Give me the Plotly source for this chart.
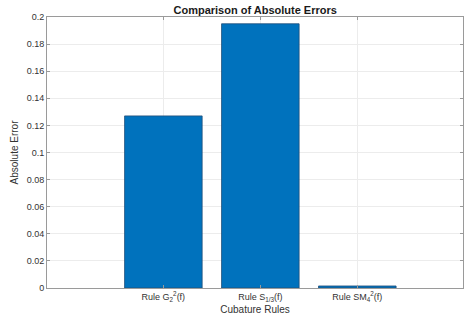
import plotly.graph_objects as go

categories = ["Rule G<sub>2</sub><sup>2</sup>(f)", "Rule S<sub>1/3</sub>(f)", "Rule SM<sub>4</sub><sup>2</sup>(f)"]
abs_errors = [0.127, 0.195, 0.0015]
y_ticks = [0, 0.02, 0.04, 0.06, 0.08, 0.1, 0.12, 0.14, 0.16, 0.18, 0.2]
y_tick_labels = ["0", "0.02", "0.04", "0.06", "0.08", "0.1", "0.12", "0.14", "0.16", "0.18", "0.2"]

fig = go.Figure()
fig.add_trace(go.Bar(
    x=categories, y=abs_errors, width=0.8,
    marker=dict(color="#0072BD", line=dict(color="#1f4e79", width=0.8)),
))

font_family = "Liberation Sans, Arial, sans-serif"
fig.update_layout(
    width=464, height=321,
    margin=dict(l=47, r=1, t=17, b=33),
    paper_bgcolor="white", plot_bgcolor="white",
    font=dict(family=font_family, size=10, color="#404040"),
    showlegend=False,
    title=dict(text="<b>Comparison of Absolute Errors</b>", x=0.55, xanchor="center",
               y=1 - 10 / 321, yanchor="middle",
               font=dict(family=font_family, size=11, color="#1a1a1a")),
    xaxis=dict(
        type="category", range=[-1.2, 3.09],
        showline=True, linecolor="#9a9a9a", linewidth=1, mirror="ticks",
        ticks="inside", ticklen=3, tickcolor="#9a9a9a",
        showgrid=True, gridcolor="#ececec", gridwidth=1,
        tickfont=dict(size=9, color="#333333"),
        title=dict(text="Cubature Rules", standoff=4, font=dict(size=10, color="#333333")),
    ),
    yaxis=dict(
        range=[0, 0.2], tickvals=y_ticks, ticktext=y_tick_labels,
        showline=True, linecolor="#9a9a9a", linewidth=1, mirror="ticks",
        ticks="inside", ticklen=3, tickcolor="#9a9a9a",
        showgrid=True, gridcolor="#ececec", gridwidth=1, zeroline=False,
        tickfont=dict(size=9, color="#333333"),
        title=dict(text="Absolute Error", standoff=6, font=dict(size=10, color="#333333")),
    ),
)

fig.write_html("out.html", config={"displayModeBar": False},
               post_script="document.body.style.margin='0';document.body.style.overflow='hidden';")
